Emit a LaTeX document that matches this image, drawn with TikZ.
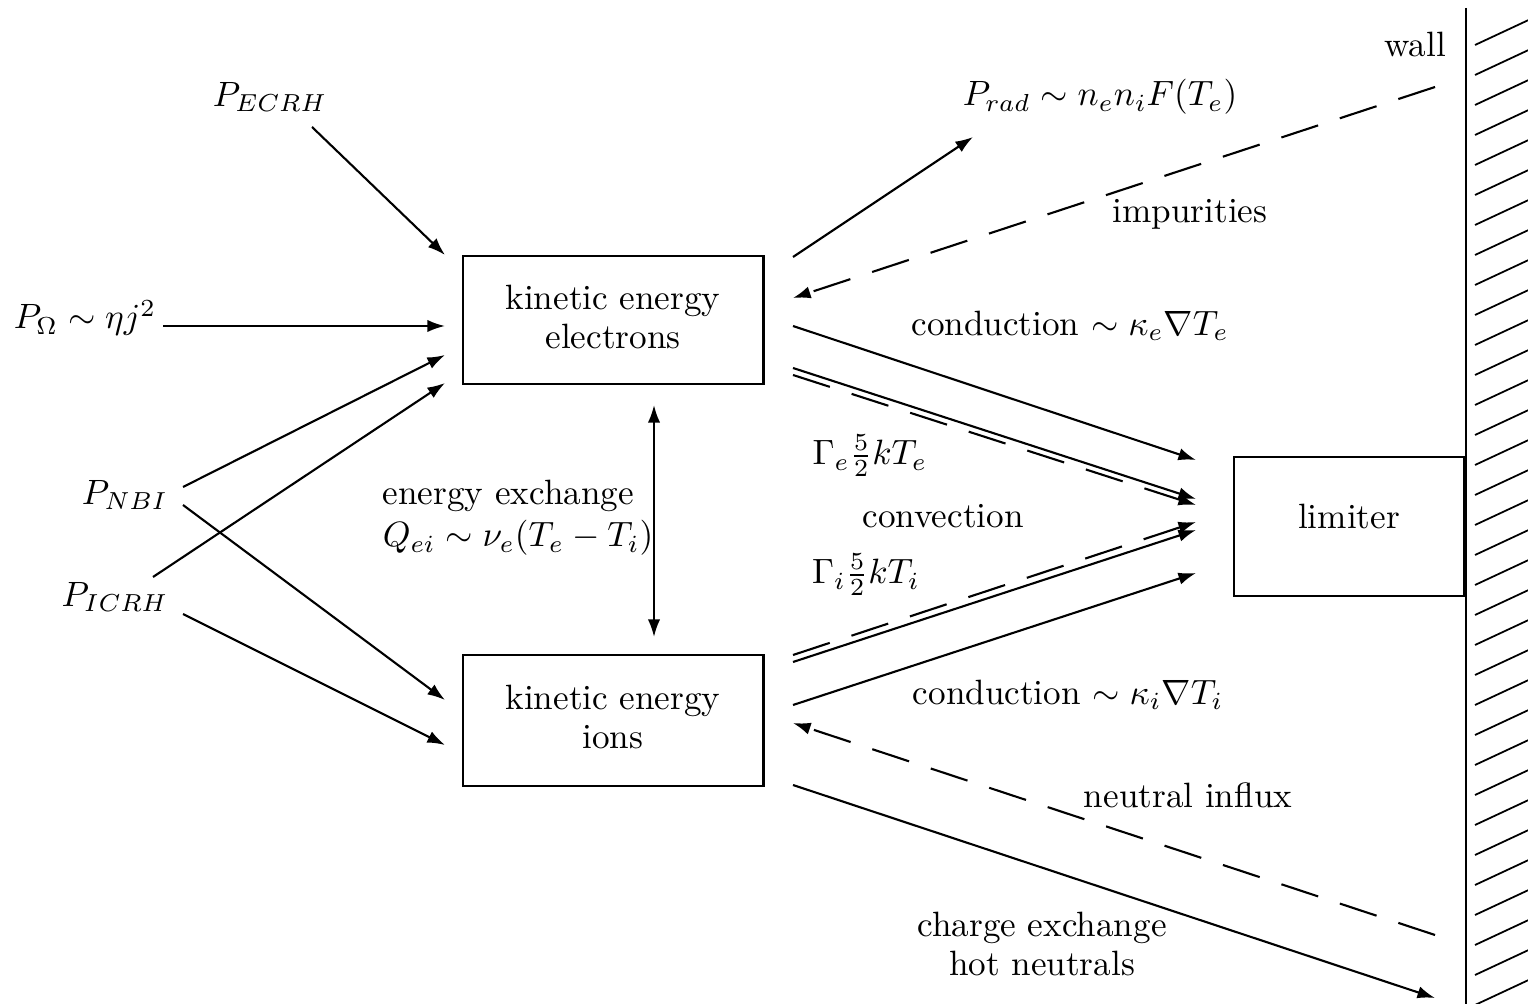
\documentclass[tikz,border=0pt]{standalone}
\usepackage{amsmath, amssymb}
\usetikzlibrary{arrows.meta, calc}

\tikzset{
  box/.style={draw, line width=0.8pt, minimum width=3cm, align=center},
  flow/.style={-{Latex[length=5pt, width=3.5pt]}, line width=0.6pt},
  back/.style={flow, dash pattern=on 11pt off 6.5pt},
}

\begin{document}
\begin{tikzpicture}[x=0.01cm, y=-0.01cm, font=\normalsize]
    \useasboundingbox (0,0) rectangle (1528,1004);
    % boxes
    \node[box, minimum height=1.28cm, text depth=2pt] (elec) at (613,320) {kinetic energy\\[-1pt]electrons};
    \node[box, minimum height=1.31cm, text depth=2pt] (ions) at (613,720.5) {kinetic energy\\[-1pt]ions};
    \node[box, minimum width=2.3cm, minimum height=1.39cm, text depth=5.6pt] (limiter) at (1349,526.5) {limiter};
    % wall
    \coordinate (walltop) at (1466,8);
    \coordinate (wallbot) at (1466,1004);
    \draw[line width=0.7pt] (walltop) -- (wallbot);
    \begin{scope}
        \clip (1466,0) rectangle (1528,1004);
        \foreach \y in {45,75,...,1035}
            \draw[line width=0.5pt] (1475,\y) -- ++(60,-28);
    \end{scope}
    \node (wall) at (1415,45) {wall};
    % sources
    \node (pecrh) at (270,97) {$P_{ECRH}$};
    \node (pohm) at (85,318) {$P_\Omega \sim \eta j^2$};
    \node (pnbi) at (125,495) {$P_{NBI}$};
    \node (picrh) at (115,597) {$P_{ICRH}$};
    \coordinate (ecrh-out) at (312,127);
    \coordinate (ohm-out) at (163,326);
    \coordinate (nbi-up) at (183,487);
    \coordinate (nbi-dn) at (183,505);
    \coordinate (icrh-up) at (153,577);
    \coordinate (icrh-dn) at (183,614);
    \coordinate (e-in1) at (445,255);
    \coordinate (e-in2) at (445,326);
    \coordinate (e-in3) at (445,355);
    \coordinate (e-in4) at (445,383);
    \coordinate (i-in1) at (445,700);
    \coordinate (i-in2) at (445,745);
    \draw[flow] (ecrh-out) -- (e-in1);
    \draw[flow] (ohm-out) -- (e-in2);
    \draw[flow] (nbi-up) -- (e-in3);
    \draw[flow] (icrh-up) -- (e-in4);
    \draw[flow] (nbi-dn) -- (i-in1);
    \draw[flow] (icrh-dn) -- (i-in2);
    % exchange
    \coordinate (ex-top) at (654,405);
    \coordinate (ex-bot) at (654,637);
    \draw[flow, {Latex[length=5pt, width=3.5pt]}-{Latex[length=5pt, width=3.5pt]}] (ex-top) -- (ex-bot);
    \node[align=left] (exch) at (518,518) {energy exchange\\$Q_{ei} \sim \nu_e(T_e - T_i)$};
    % losses, electrons
    \node (prad) at (1100,97) {$P_{rad} \sim n_e n_i F(T_e)$};
    \node (imp) at (1190,214) {impurities};
    \node (conde) at (1070,326) {conduction $\sim \kappa_e \nabla T_e$};
    \node (game) at (870,456) {$\Gamma_e \frac{5}{2} kT_e$};
    \node (conv) at (943,516) {convection};
    \node (gami) at (866,575) {$\Gamma_i \frac{5}{2} kT_i$};
    \coordinate (e-rad) at (793,257);
    \coordinate (rad-in) at (973,137);
    \coordinate (imp-src) at (1435,87);
    \coordinate (e-imp) at (793,298);
    \coordinate (e-cond) at (793,326);
    \coordinate (e-conv) at (793,368);
    \coordinate (e-convd) at (793,375);
    \coordinate (l-cond-e) at (1196,460);
    \coordinate (l-conv-e) at (1196,499);
    \coordinate (l-convd-e) at (1196,505);
    \draw[flow] (e-rad) -- (rad-in);
    \draw[back] (imp-src) -- (e-imp);
    \draw[flow] (e-cond) -- (l-cond-e);
    \draw[flow] (e-conv) -- (l-conv-e);
    \draw[back] (e-convd) -- (l-convd-e);
    % losses, ions
    \node (condi) at (1068,695) {conduction $\sim \kappa_i \nabla T_i$};
    \node (influx) at (1188,795) {neutral influx};
    \node[align=center] (cx) at (1042,944) {charge exchange\\[-1pt]hot neutrals};
    \coordinate (i-convd) at (793,655);
    \coordinate (i-conv) at (793,662);
    \coordinate (i-cond) at (793,705);
    \coordinate (i-infl) at (793,723);
    \coordinate (i-cx) at (793,785);
    \coordinate (l-convd-i) at (1196,522);
    \coordinate (l-conv-i) at (1196,530);
    \coordinate (l-cond-i) at (1196,573);
    \coordinate (infl-src) at (1435,935);
    \coordinate (cx-wall) at (1435,998);
    \draw[back] (i-convd) -- (l-convd-i);
    \draw[flow] (i-conv) -- (l-conv-i);
    \draw[flow] (i-cond) -- (l-cond-i);
    \draw[back] (infl-src) -- (i-infl);
    \draw[flow] (i-cx) -- (cx-wall);
\end{tikzpicture}
\end{document}
